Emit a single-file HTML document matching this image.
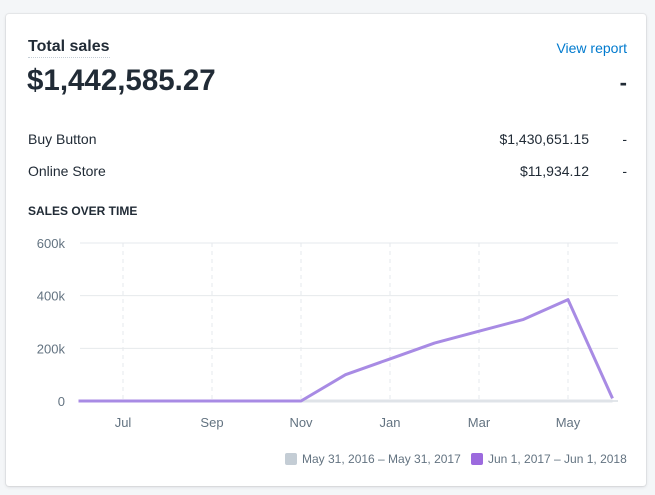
<!DOCTYPE html>
<html><head><meta charset="utf-8"><style>
body{margin:0;width:655px;height:495px;background:#f4f6f8;font-family:"Liberation Sans",sans-serif;color:#212b36;position:relative;overflow:hidden}
.card{position:absolute;left:6px;top:14px;width:640px;height:472px;background:#fff;border-radius:3px;box-shadow:0 0 0 1px rgba(63,63,68,.06),0 1px 3px rgba(63,63,68,.15)}
.t{position:absolute;white-space:nowrap}
</style></head><body>
<div class="card">
<div class="t" style="left:22px;top:24px;font-size:16px;font-weight:bold;border-bottom:1px dotted #c4cdd5;padding-bottom:1px">Total sales</div>
<a class="t" style="right:19px;top:26px;font-size:14px;color:#007ace;text-decoration:none">View report</a>
<div class="t" style="left:21px;top:50px;font-size:29.5px;font-weight:bold">$1,442,585.27</div>
<div class="t" style="right:19px;top:56px;font-size:22px;font-weight:bold">-</div>
<div class="t" style="left:22px;top:117px;font-size:14px">Buy Button</div>
<div class="t" style="right:57px;top:117px;font-size:14px">$1,430,651.15</div>
<div class="t" style="right:19px;top:117px;font-size:14px">-</div>
<div class="t" style="left:22px;top:149px;font-size:14px">Online Store</div>
<div class="t" style="right:57px;top:149px;font-size:14px">$11,934.12</div>
<div class="t" style="right:19px;top:149px;font-size:14px">-</div>
<div class="t" style="left:22px;top:190px;font-size:12px;font-weight:bold">SALES OVER TIME</div>
</div>
<svg id="chart" width="655" height="495" style="position:absolute;left:0;top:0"></svg>
<script>
const months=["Jun","Jul","Aug","Sep","Oct","Nov","Dec","Jan","Feb","Mar","Apr","May","Jun"];
const currentSales=[0,0,0,0,0,0,100000,160000,220000,265000,310000,385000,10000];
const previousSales=[0,0,0,0,0,0,0,0,0,0,0,0,0];
const yTicks=[0,200000,400000,600000];
const yTickLabels=["0","200k","400k","600k"];
const xTickIdx=[1,3,5,7,9,11];
const svg=document.getElementById('chart');const NS='http://www.w3.org/2000/svg';
const x0=78.5,dx=44.5,yB=401,yT=243,yMax=600000,xR=618;
const X=i=>x0+i*dx, Y=v=>yB-(v/yMax)*(yB-yT);
function mk(t,a){const e=document.createElementNS(NS,t);for(const k in a)e.setAttribute(k,a[k]);svg.appendChild(e);return e;}
yTicks.forEach((v,i)=>{
const l=mk('line',{x1:80,x2:xR,y1:Y(v),y2:Y(v),stroke:i==0?'#c4cdd5':'#e6e9ec','stroke-width':1});


const t=mk('text',{x:65,y:Y(v)+5,'text-anchor':'end','font-size':13,fill:'#637381','font-family':'Liberation Sans, sans-serif'});t.textContent=yTickLabels[i];


});
xTickIdx.forEach(i=>{
const l=mk('line',{x1:X(i),x2:X(i),y1:yT,y2:yB,stroke:'#e6e9ec','stroke-dasharray':'4,4'});


const t=mk('text',{x:X(i),y:427,'text-anchor':'middle','font-size':13,fill:'#637381','font-family':'Liberation Sans, sans-serif'});t.textContent=months[i];


});
function line(vals,color,name){const d=vals.map((v,i)=>(i?'L':'M')+X(i).toFixed(1)+','+Y(v).toFixed(1)).join('');
const p=mk('path',{d:d,fill:'none',stroke:color,'stroke-width':3,'stroke-linejoin':'round'});

}
line(previousSales,'#dfe3e8','previous-period-line');
line(currentSales,'#a88be4','current-period-line');
const lg=[[285,'#c4cdd5','May 31, 2016 – May 31, 2017','legend-previous'],[471,'#9c6ade','Jun 1, 2017 – Jun 1, 2018','legend-current']];
lg.forEach(a=>{const r=mk('rect',{x:a[0],y:453,width:12,height:12,rx:2,fill:a[1]});


const t=mk('text',{x:a[0]+17,y:463,'font-size':12,fill:'#637381','font-family':'Liberation Sans, sans-serif'});t.textContent=a[2];

});
</script>
</body></html>
